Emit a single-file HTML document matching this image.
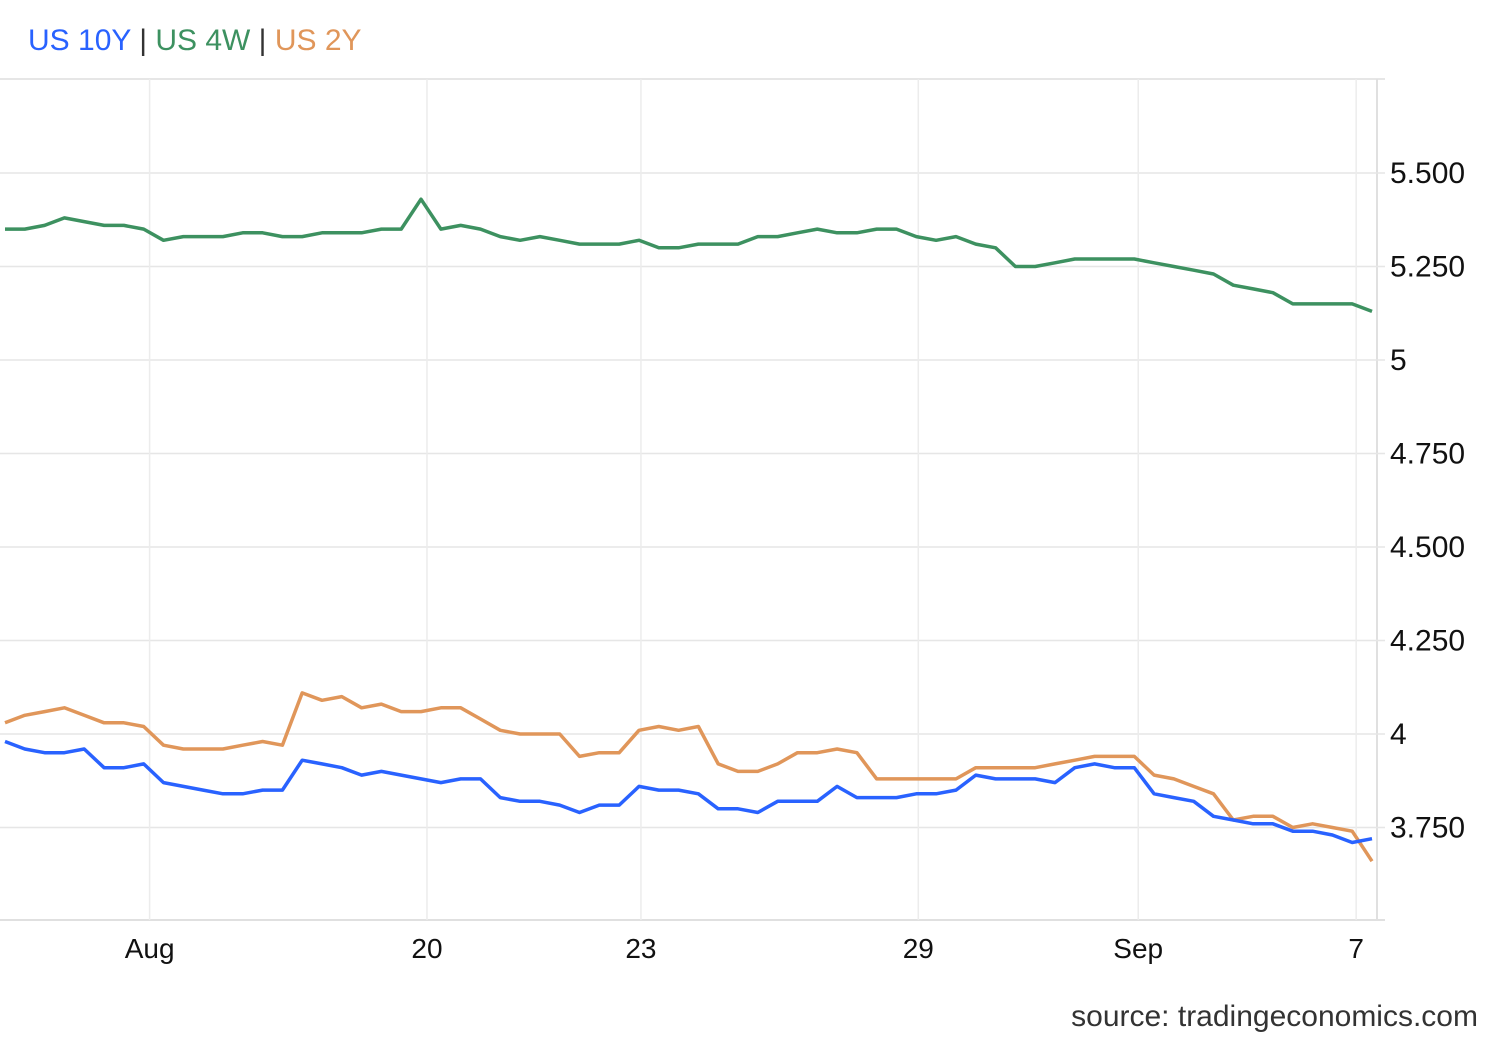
<!DOCTYPE html>
<html><head><meta charset="utf-8"><style>
html,body{margin:0;padding:0;background:#fff;width:1500px;height:1040px;overflow:hidden;font-family:"Liberation Sans",sans-serif}
</style></head><body>
<svg id="chart" width="1500" height="1040" xmlns="http://www.w3.org/2000/svg">
<text x="28" y="50" font-size="30" font-family="Liberation Sans, sans-serif"><tspan fill="#2962ff">US 10Y</tspan><tspan fill="#333"> | </tspan><tspan fill="#3d9160">US 4W</tspan><tspan fill="#333"> | </tspan><tspan fill="#e0965a">US 2Y</tspan></text>
<text x="1478" y="1026" text-anchor="end" font-size="30" fill="#333">source: tradingeconomics.com</text>
</svg>
<script>
const yTicks=[3.75,4,4.25,4.5,4.75,5,5.25,5.5];
const yTickLabels=["3.750","4","4.250","4.500","4.750","5","5.250","5.500"];
const xTickIdx=[7.3,21.3,32.1,46.1,57.2,68.2];
const xTickLabels=["Aug","20","23","29","Sep","7"];
const us4w=[5.35,5.35,5.36,5.38,5.37,5.36,5.36,5.35,5.32,5.33,5.33,5.33,5.34,5.34,5.33,5.33,5.34,5.34,5.34,5.35,5.35,5.43,5.35,5.36,5.35,5.33,5.32,5.33,5.32,5.31,5.31,5.31,5.32,5.30,5.30,5.31,5.31,5.31,5.33,5.33,5.34,5.35,5.34,5.34,5.35,5.35,5.33,5.32,5.33,5.31,5.30,5.25,5.25,5.26,5.27,5.27,5.27,5.27,5.26,5.25,5.24,5.23,5.20,5.19,5.18,5.15,5.15,5.15,5.15,5.13];
const us10y=[3.98,3.96,3.95,3.95,3.96,3.91,3.91,3.92,3.87,3.86,3.85,3.84,3.84,3.85,3.85,3.93,3.92,3.91,3.89,3.90,3.89,3.88,3.87,3.88,3.88,3.83,3.82,3.82,3.81,3.79,3.81,3.81,3.86,3.85,3.85,3.84,3.80,3.80,3.79,3.82,3.82,3.82,3.86,3.83,3.83,3.83,3.84,3.84,3.85,3.89,3.88,3.88,3.88,3.87,3.91,3.92,3.91,3.91,3.84,3.83,3.82,3.78,3.77,3.76,3.76,3.74,3.74,3.73,3.71,3.72];
const us2y=[4.03,4.05,4.06,4.07,4.05,4.03,4.03,4.02,3.97,3.96,3.96,3.96,3.97,3.98,3.97,4.11,4.09,4.10,4.07,4.08,4.06,4.06,4.07,4.07,4.04,4.01,4.00,4.00,4.00,3.94,3.95,3.95,4.01,4.02,4.01,4.02,3.92,3.90,3.90,3.92,3.95,3.95,3.96,3.95,3.88,3.88,3.88,3.88,3.88,3.91,3.91,3.91,3.91,3.92,3.93,3.94,3.94,3.94,3.89,3.88,3.86,3.84,3.77,3.78,3.78,3.75,3.76,3.75,3.74,3.66];
const NS="http://www.w3.org/2000/svg";
const svg=document.getElementById('chart');
const x=i=>5+i*(1367/69);
const y=v=>360-(v-5)*374;
function mk(t,a){const e=document.createElementNS(NS,t);for(const k in a)e.setAttribute(k,a[k]);svg.appendChild(e);return e;}
let e=mk('line',{x1:0,x2:1385,y1:79,y2:79,stroke:'#e6e6e6','stroke-width':2});


e=mk('line',{x1:0,x2:1385,y1:920,y2:920,stroke:'#e0e0e0','stroke-width':2});


e=mk('line',{x1:1377,x2:1377,y1:79,y2:920,stroke:'#e0e0e0','stroke-width':2});


yTicks.forEach((v,k)=>{
  let g=mk('line',{x1:0,x2:1385,y1:y(v),y2:y(v),stroke:'#e6e6e6','stroke-width':1.5});
  
  
  let t=mk('text',{x:1390,y:y(v)+10,'font-size':30,fill:'#111'});
  t.textContent=yTickLabels[k];
  
  
});
xTickIdx.forEach((p,k)=>{
  let g=mk('line',{x1:x(p),x2:x(p),y1:79,y2:920,stroke:'#ececec','stroke-width':1.5});
  
  
  let t=mk('text',{x:x(p),y:958,'font-size':28,fill:'#111','text-anchor':'middle'});
  t.textContent=xTickLabels[k];
  
  
});
function line(d,c,n){
  const p=mk('polyline',{points:d.map((v,i)=>x(i).toFixed(1)+','+y(v).toFixed(1)).join(' '),fill:'none',stroke:c,'stroke-width':3.5,'stroke-linejoin':'round'});
  
  
}
line(us4w,'#3d9160','us4w-line');
line(us2y,'#e0965a','us2y-line');
line(us10y,'#2962ff','us10y-line');
</script>
</body></html>
